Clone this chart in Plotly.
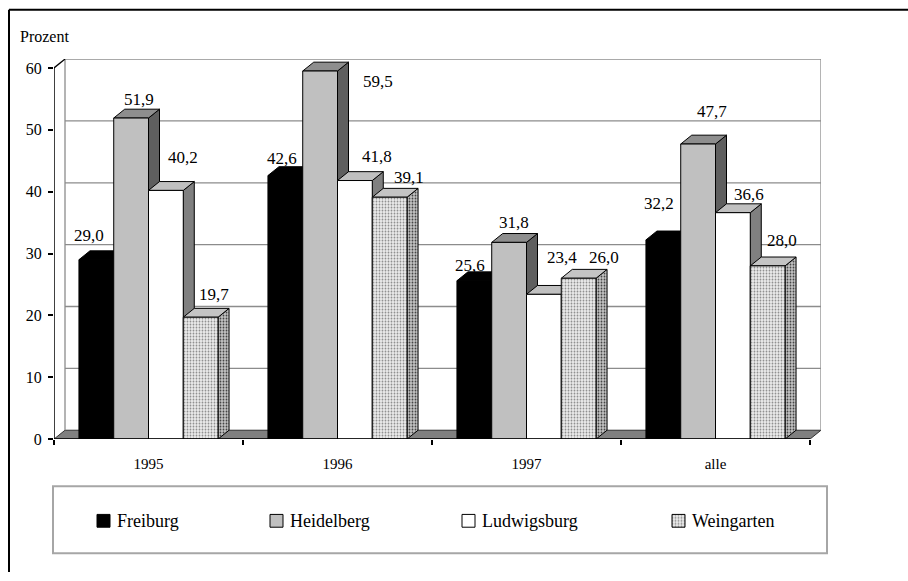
import plotly.graph_objects as go

# ---- data -------------------------------------------------------------
CATEGORIES = ["1995", "1996", "1997", "alle"]
SERIES = ["Freiburg", "Heidelberg", "Ludwigsburg", "Weingarten"]
FREIBURG = [29.0, 42.6, 25.6, 32.2]
HEIDELBERG = [51.9, 59.5, 31.8, 47.7]
LUDWIGSBURG = [40.2, 41.8, 23.4, 36.6]
WEINGARTEN = [19.7, 39.1, 26.0, 28.0]
Y_TICKS = [0, 10, 20, 30, 40, 50, 60]
Y_TITLE = "Prozent"

VALUES = [FREIBURG, HEIDELBERG, LUDWIGSBURG, WEINGARTEN]

# ---- page geometry (pixels) -------------------------------------------
W, H = 908, 581
FRONT_L, FRONT_R = 54, 810          # front plane of the x axis
FRONT_Y0, FRONT_Y60 = 446, 69       # front plane: value 0 and value 60
DEPTH_X, DEPTH_Y = 11, 9            # 3-D depth offset of the walls / bars
PLOT_L, PLOT_R = FRONT_L, FRONT_R + DEPTH_X
PLOT_B, PLOT_T = FRONT_Y0, FRONT_Y60 - DEPTH_Y

px_per_x = (FRONT_R - FRONT_L) / len(CATEGORIES)
px_per_y = (FRONT_Y0 - FRONT_Y60) / max(Y_TICKS)
DXU = DEPTH_X / px_per_x
DYU = DEPTH_Y / px_per_y
X_MAX = len(CATEGORIES) + DXU
Y_MAX = (PLOT_B - PLOT_T) / px_per_y

BAR_W = 0.184
GAP = (1 - len(SERIES) * BAR_W) / 2

FONT = "'Liberation Serif', 'DejaVu Serif', 'Times New Roman', serif"
GRID = "#8c8c8c"

# face colours: front, top, side (+ optional dotted pattern)
STYLES = {
    "Freiburg":    dict(front="#000000", top="#000000", side="#000000"),
    "Heidelberg":  dict(front="#c0c0c0", top="#8e8e8e", side="#5f5f5f"),
    "Ludwigsburg": dict(front="#ffffff", top="#c0c0c0", side="#808080"),
    "Weingarten":  dict(front="#ececec", top="#c4c4c4", side="#c4c4c4",
                        front_dots="#8c8c8c", side_dots="#404040"),
}

# pixel shift of each value label from the top-centre of its bar
LABEL_SHIFT = {
    "Freiburg":    [(-7, 24), (-3, 17), (-4, 15), (-4, 36)],
    "Heidelberg":  [(8, 19), (58, -10), (5, 20), (14, 33)],
    "Ludwigsburg": [(17, 33), (22, 24), (18, 37), (16, 18)],
    "Weingarten":  [(13, 23), (19, 20), (25, 21), (14, 25)],
}

fig = go.Figure()


def polygon(xs, ys, fill, dots=None, line="#000000", width=1,
            xaxis="x", yaxis="y"):
    kw = {}
    if dots:
        kw["fillpattern"] = dict(shape=".", fgcolor=dots, bgcolor=fill,
                                 size=3, solidity=0.3, fillmode="replace")
    fig.add_trace(go.Scatter(
        x=list(xs) + [xs[0]], y=list(ys) + [ys[0]],
        mode="lines", fill="toself", fillcolor=fill,
        line=dict(color=line, width=width),
        hoverinfo="skip", showlegend=False, xaxis=xaxis, yaxis=yaxis, **kw))


# floor
polygon([0, len(CATEGORIES), X_MAX, DXU], [0, 0, DYU, DYU], "#808080",
        line="#303030")

# back wall grid lines and edges
gx, gy = [], []
for v in Y_TICKS[1:]:
    gx += [DXU, X_MAX, None]
    gy += [v + DYU, v + DYU, None]
for xe in (DXU, X_MAX):
    gx += [xe, xe, None]
    gy += [DYU, max(Y_TICKS) + DYU, None]
fig.add_trace(go.Scatter(x=gx, y=gy, mode="lines",
                         line=dict(color=GRID, width=1.3),
                         hoverinfo="skip", showlegend=False))

# top edge of the left wall
fig.add_trace(go.Scatter(x=[0, DXU], y=[max(Y_TICKS), max(Y_TICKS) + DYU],
                         mode="lines", line=dict(color="#000000", width=1.3),
                         hoverinfo="skip", showlegend=False))

# 3-D bars, drawn left to right so nearer faces cover hidden ones
annotations = []
for i, cat in enumerate(CATEGORIES):
    for j, name in enumerate(SERIES):
        v = VALUES[j][i]
        st = STYLES[name]
        x0 = i + GAP + j * BAR_W
        x1 = x0 + BAR_W
        # side face
        polygon([x1, x1 + DXU, x1 + DXU, x1], [0, DYU, v + DYU, v],
                st["side"], st.get("side_dots"))
        # top face
        polygon([x0, x1, x1 + DXU, x0 + DXU], [v, v, v + DYU, v + DYU],
                st["top"])
        # front face
        polygon([x0, x1, x1, x0], [0, 0, v, v], st["front"],
                st.get("front_dots"))
        sx, sy = LABEL_SHIFT[name][i]
        annotations.append(dict(
            x=(x0 + x1) / 2, y=v, xref="x", yref="y",
            text=f"{v:.1f}".replace(".", ","), showarrow=False,
            xshift=sx, yshift=sy, xanchor="center", yanchor="middle",
            font=dict(family=FONT, size=17, color="#000000")))

# ---- legend (own pixel-scaled axes below the chart) --------------------
LEG_L, LEG_R, LEG_T, LEG_B = 53, 827, 494, 562
LEG_SWATCH_X = [97, 270, 462, 672]
LEG_MID_Y = 529
SW = 13
for name, lx in zip(SERIES, LEG_SWATCH_X):
    st = STYLES[name]
    polygon([lx, lx + SW, lx + SW, lx],
            [LEG_MID_Y - SW / 2, LEG_MID_Y - SW / 2,
             LEG_MID_Y + SW / 2, LEG_MID_Y + SW / 2],
            st["front"], st.get("front_dots"), xaxis="x2", yaxis="y2")
    annotations.append(dict(
        x=lx + SW + 5, y=LEG_MID_Y, xref="x2", yref="y2", text=name,
        showarrow=False, xanchor="left", yanchor="middle",
        font=dict(family=FONT, size=18, color="#000000")))

annotations.append(dict(
    x=18 / W, y=1 - 37 / H, xref="paper", yref="paper", text=Y_TITLE,
    showarrow=False, xanchor="left", yanchor="middle",
    font=dict(family=FONT, size=16, color="#000000")))

shapes = [
    # axis lines on the front plane
    dict(type="line", xref="x", yref="y", x0=0, y0=0, x1=0,
         y1=max(Y_TICKS), line=dict(color="#000000", width=1.5)),
    dict(type="line", xref="x", yref="y", x0=0, y0=0,
         x1=len(CATEGORIES), y1=0, line=dict(color="#000000", width=1.5)),
    # legend frame
    dict(type="rect", xref="paper", yref="paper",
         x0=LEG_L / W, x1=LEG_R / W, y0=1 - LEG_B / H, y1=1 - LEG_T / H,
         line=dict(color="#a6a6a6", width=2)),
    # outer frame (top and left edges)
    dict(type="line", xref="paper", yref="paper", x0=9 / W, x1=1,
         y0=1 - 10 / H, y1=1 - 10 / H, line=dict(color="#000000", width=2)),
    dict(type="line", xref="paper", yref="paper", x0=9 / W, x1=9 / W,
         y0=0, y1=1 - 10 / H, line=dict(color="#000000", width=2)),
]

axis_font = dict(family=FONT, size=16, color="#000000")
fig.update_layout(
    width=W, height=H, autosize=False,
    margin=dict(l=0, r=0, t=0, b=0),
    paper_bgcolor="#ffffff", plot_bgcolor="rgba(0,0,0,0)",
    showlegend=False,
    font=dict(family=FONT),
    xaxis=dict(domain=[PLOT_L / W, PLOT_R / W], range=[0, X_MAX],
               tickmode="array",
               tickvals=[i + 0.5 for i in range(len(CATEGORIES))],
               ticktext=CATEGORIES, ticks="outside", ticklen=11,
               tickcolor="rgba(0,0,0,0)", showgrid=False, zeroline=False,
               showline=False, tickfont=dict(family=FONT, size=15,
                                             color="#000000"),
               fixedrange=True,
               minor=dict(tickmode="array",
                          tickvals=list(range(len(CATEGORIES) + 1)),
                          ticks="outside", ticklen=5, tickcolor="#000000",
                          tickwidth=1.5, showgrid=False)),
    yaxis=dict(domain=[1 - PLOT_B / H, 1 - PLOT_T / H], range=[0, Y_MAX],
               tickmode="array", tickvals=Y_TICKS,
               ticktext=[str(t) for t in Y_TICKS],
               ticks="outside", ticklen=5, tickwidth=1.5,
               tickcolor="#000000", ticklabelstandoff=3,
               showgrid=False, zeroline=False, showline=False,
               tickfont=axis_font, fixedrange=True),
    xaxis2=dict(domain=[LEG_L / W, LEG_R / W], range=[LEG_L, LEG_R],
                visible=False, fixedrange=True, anchor="y2"),
    yaxis2=dict(domain=[1 - LEG_B / H, 1 - LEG_T / H],
                range=[LEG_B, LEG_T], visible=False, fixedrange=True,
                anchor="x2"),
    annotations=annotations,
    shapes=shapes,
)

fig.write_html("out.html")
